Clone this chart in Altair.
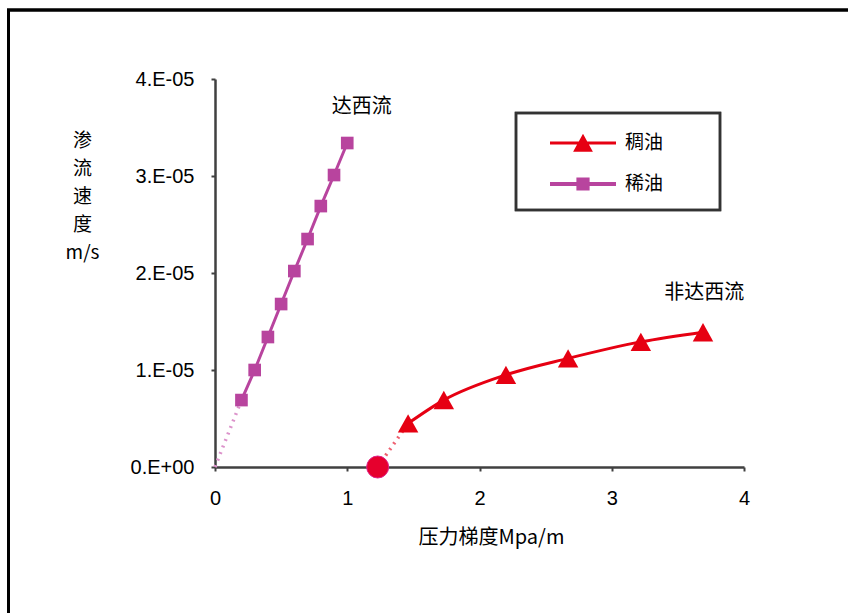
import altair as alt
import pandas as pd

# ---- data ----
light_x = [0.2, 0.3, 0.4, 0.5, 0.6, 0.7, 0.8, 0.9, 1.0]
light_y = [0.69e-5, 1.00e-5, 1.34e-5, 1.68e-5, 2.02e-5, 2.35e-5, 2.69e-5, 3.01e-5, 3.34e-5]
heavy_x = [1.46, 1.73, 2.20, 2.67, 3.22, 3.69]
heavy_y = [0.45e-5, 0.69e-5, 0.95e-5, 1.12e-5, 1.29e-5, 1.39e-5]
light_ext_x = [0.0, 0.2]
light_ext_y = [0.0, 0.69e-5]
threshold_x = [1.23]
threshold_y = [0.0]
heavy_ext_x = [1.23, 1.46]
heavy_ext_y = [0.0, 0.45e-5]
series = ["稠油", "稀油"]
notes = ["达西流", "非达西流"]
note_x = [1.11, 3.70]
note_y = [3.71e-5, 1.79e-5]
x_ticks = [0, 1, 2, 3, 4]
y_ticks = [0, 1e-5, 2e-5, 3e-5, 4e-5]

RED = "#E60012"
MAG = "#B8449E"
MAG_LIGHT = "#DC93CB"
RED_LIGHT = "#EE6070"
CJK = "Noto Sans CJK SC"
LAT = "Liberation Sans"

light = pd.DataFrame({"x": light_x, "y": light_y})
heavy = pd.DataFrame({"x": heavy_x, "y": heavy_y})
light_ext = pd.DataFrame({"x": light_ext_x, "y": light_ext_y})
heavy_ext = pd.DataFrame({"x": heavy_ext_x, "y": heavy_ext_y})
thr = pd.DataFrame({"x": threshold_x, "y": threshold_y})
note_df = pd.DataFrame({"x": note_x, "y": note_y, "t": notes})
leg_df = pd.DataFrame({"s": series, "x": [0, 0], "y": [0, 0]})

xs = alt.Scale(domain=[0, 4], nice=False, zero=False)
ys = alt.Scale(domain=[0, 4e-5], nice=False)

X = alt.X("x:Q", scale=xs, axis=alt.Axis(
    values=x_ticks, format="d", title="压力梯度Mpa/m", grid=False, labelFlush=False,
    domainColor="#404040", domainWidth=2.5, tickColor="#404040", tickWidth=2, tickSize=4,
    labelFont=LAT, labelFontSize=20, labelColor="#000", labelPadding=17,
    titleFont=CJK, titleFontSize=20, titleFontWeight="normal", titleColor="#000",
    titleX=276, titleY=70, titleBaseline="middle", titleAnchor="start", titleAlign="center"))
Y = alt.Y("y:Q", scale=ys, axis=alt.Axis(
    values=y_ticks, title=["渗", "流", "速", "度", "m/s"], grid=False, labelFlush=False,
    labelExpr="datum.value == 0 ? '0.E+00' : round(datum.value * 1e5) + '.E-05'",
    domainColor="#404040", domainWidth=2.5, tickColor="#404040", tickWidth=2, tickSize=4,
    labelFont=LAT, labelFontSize=20, labelColor="#000", labelPadding=17,
    titleFont=CJK, titleFontSize=19, titleFontWeight="normal", titleColor="#000",
    titleAngle=0, titleX=-133, titleY=52, titleAlign="center", titleBaseline="top",
    titleLineHeight=28, titleAnchor="start"))

light_line = alt.Chart(light).mark_line(color=MAG, strokeWidth=3).encode(x=X, y=Y)
light_pts = alt.Chart(light).mark_point(shape="square", size=160, filled=True, opacity=1, color=MAG).encode(x="x:Q", y="y:Q")
light_dot = alt.Chart(light_ext).mark_line(color=MAG_LIGHT, strokeWidth=3.5, strokeDash=[2, 5]).encode(x="x:Q", y="y:Q")

tri = "M0,-0.9L1,0.9L-1,0.9Z"
heavy_line = alt.Chart(heavy).mark_line(color=RED, strokeWidth=3, interpolate="monotone").encode(x="x:Q", y="y:Q")
heavy_pts = alt.Chart(heavy).mark_point(shape=tri, size=420, filled=True, opacity=1, color=RED).encode(x="x:Q", y="y:Q")
heavy_dot = alt.Chart(heavy_ext).mark_line(color=RED_LIGHT, strokeWidth=3.5, strokeDash=[2, 5]).encode(x="x:Q", y="y:Q")
thr_pt = alt.Chart(thr).mark_point(shape="circle", size=484, filled=True, opacity=1, color="#E6002D",
                                   stroke="#E0208A", strokeWidth=1).encode(x="x:Q", y="y:Q")

texts = alt.Chart(note_df).mark_text(font=CJK, fontSize=20, color="#000").encode(x="x:Q", y="y:Q", text="t:N")

leg_tri = "M-3,-0.14L3,-0.14L3,0.14L-3,0.14Z M0,-0.85L0.9,0.8L-0.9,0.8Z"
leg_sq = "M-3,-0.18L3,-0.18L3,0.18L-3,0.18Z M-0.6,-0.6L0.6,-0.6L0.6,0.6L-0.6,0.6Z"
legend = alt.Legend(orient="none", legendX=357, legendY=53, title=None, padding=0,
                    rowPadding=20, labelOffset=31, labelFont=CJK, labelFontSize=19,
                    labelColor="#000", symbolSize=484, symbolStrokeWidth=0, symbolOpacity=1)
leg_layer = alt.Chart(leg_df).transform_filter("false").mark_point(filled=True, opacity=1).encode(
    x="x:Q", y="y:Q",
    color=alt.Color("s:N", scale=alt.Scale(domain=series, range=[RED, MAG]), legend=legend),
    shape=alt.Shape("s:N", scale=alt.Scale(domain=series, range=[leg_tri, leg_sq]), legend=legend),
)

leg_box = alt.Chart(leg_df).mark_rect(fill=None, stroke="#333", strokeWidth=2.5).encode(
    x=alt.value(301), x2=alt.value(505), y=alt.value(34), y2=alt.value(131))
frame_left = alt.Chart(leg_df).mark_rule(color="#000", strokeWidth=3).encode(
    x=alt.value(-206.5), y=alt.value(-69), y2=alt.value(540))
frame_top = alt.Chart(leg_df).mark_rule(color="#000", strokeWidth=3).encode(
    x=alt.value(-208), x2=alt.value(640), y=alt.value(-69))

chart = alt.layer(
    light_dot, heavy_dot, light_line, heavy_line, light_pts, heavy_pts, thr_pt,
    texts, leg_layer, leg_box, frame_left, frame_top
).properties(
    width=529, height=388,
    autosize=alt.AutoSizeParams(type="none"),
    padding={"left": 215, "top": 79, "right": 104, "bottom": 146},
    background="white",
).configure_view(stroke=None)

chart.save("out.html", embed_options={"renderer": "svg", "actions": False})
